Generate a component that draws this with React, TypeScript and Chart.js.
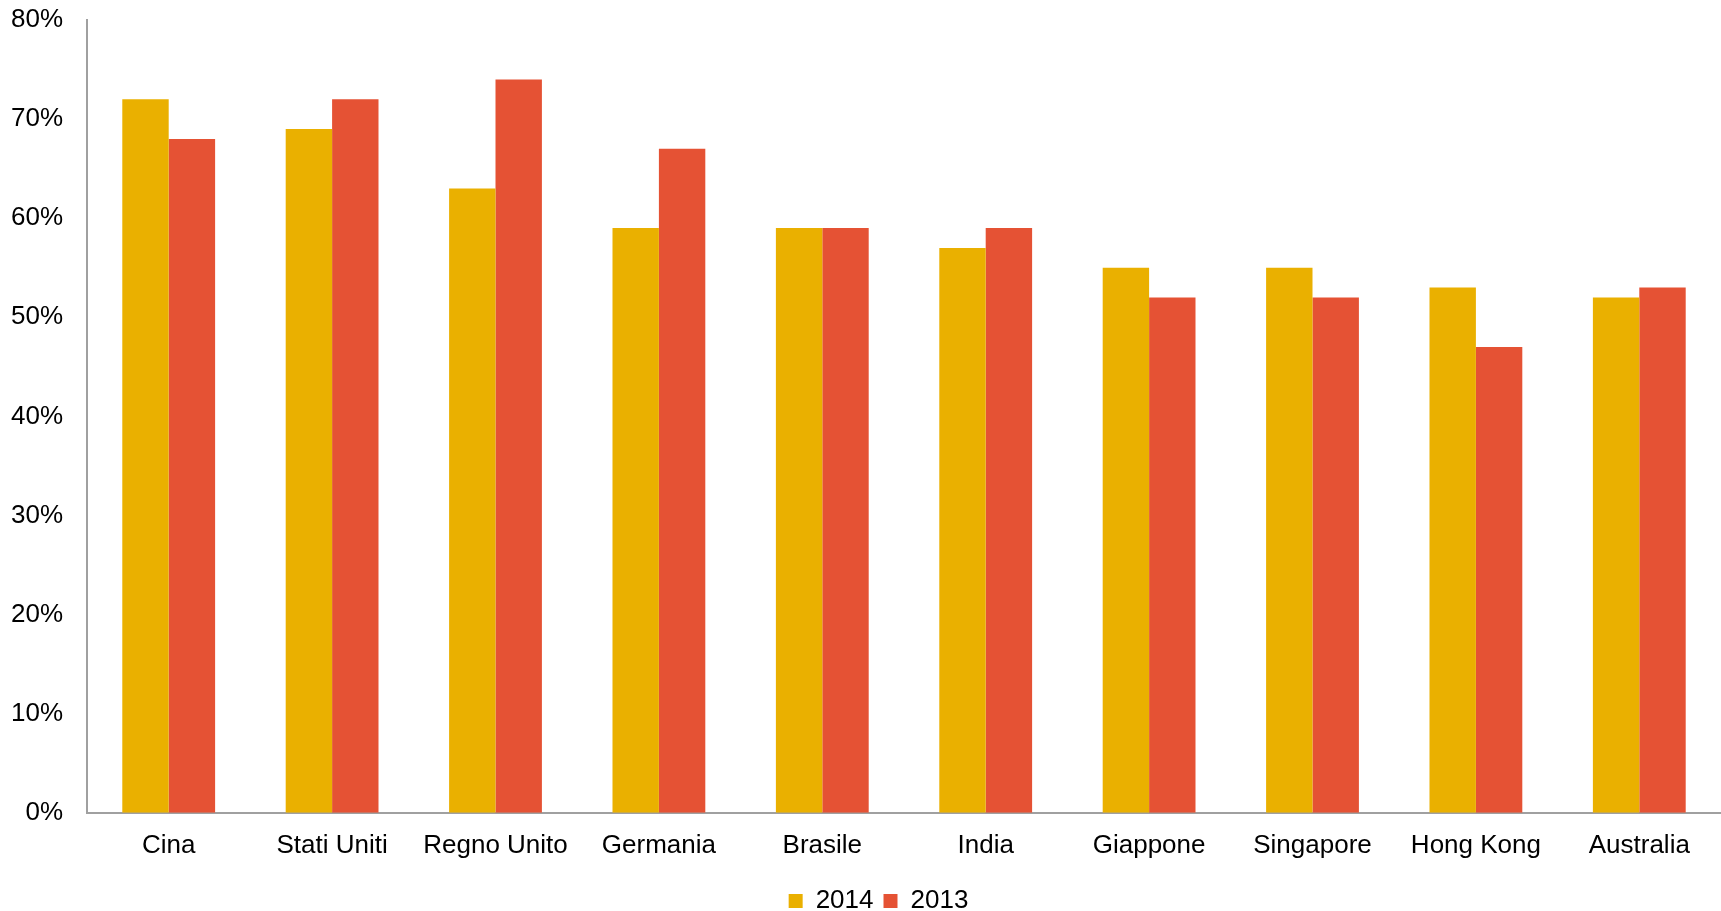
import React, { useEffect, useRef } from "react";
import { Chart, registerables } from "chart.js";

Chart.register(...registerables);

const categories = ["Cina", "Stati Uniti", "Regno Unito", "Germania", "Brasile", "India", "Giappone", "Singapore", "Hong Kong", "Australia"];
const values2014 = [72, 69, 63, 59, 59, 57, 55, 55, 53, 52];
const values2013 = [68, 72, 74, 67, 59, 59, 52, 52, 47, 53];
const yTicks = [0, 10, 20, 30, 40, 50, 60, 70, 80];

const FONT = "'Liberation Sans', Arial, sans-serif";

const legendShift = {
  id: "legendShift",
  afterLayout(chart: any) {
    const lg = chart.legend;
    if (lg) {
      lg.left += 18;
      lg.right += 18;
    }
  },
};

export default function App() {
  const ref = useRef<HTMLCanvasElement>(null);
  useEffect(() => {
    if (!ref.current) return;
    const chart = new Chart(ref.current, {
      type: "bar",
      data: {
        labels: categories,
        datasets: [
          { label: "2014", data: values2014, backgroundColor: "#EAB000", categoryPercentage: 0.568, barPercentage: 1 },
          { label: "2013", data: values2013, backgroundColor: "#E55234", categoryPercentage: 0.568, barPercentage: 1 },
        ],
      },
      plugins: [legendShift],
      options: {
        responsive: false,
        animation: false,
        layout: { padding: { top: 20, right: 0, left: 0, bottom: -13 } },
        plugins: {
          tooltip: { enabled: false },
          legend: {
            position: "bottom",
            labels: {
              boxWidth: 14,
              boxHeight: 14,
              padding: 10,
              color: "#000",
              font: { family: FONT, size: 26 },
            },
          },
        },
        scales: {
          x: {
            grid: { display: false, drawTicks: false },
            border: { display: true, color: "#a0a0a0", width: 2 },
            ticks: { color: "#000", padding: 17, font: { family: FONT, size: 26 }, maxRotation: 0, autoSkip: false },
          },
          y: {
            min: 0,
            max: 80,
            afterFit: (s: any) => { s.width = 87; s.paddingTop = 0; s.paddingBottom = 0; },
            afterBuildTicks: (s: any) => { s.ticks = yTicks.map((v) => ({ value: v })); },
            grid: { display: false, drawTicks: false },
            border: { display: true, color: "#a0a0a0", width: 2 },
            ticks: { color: "#000", padding: 24, font: { family: FONT, size: 26 }, callback: (v: any) => v + "%" },
          },
        },
      },
    });
    return () => chart.destroy();
  }, []);
  return (
    <div style={{ position: "absolute", left: 0, top: 0, width: 1721, height: 911, background: "#fff" }}>
      <canvas ref={ref} width={1721} height={911} style={{ width: 1721, height: 911, display: "block" }} />
    </div>
  );
}
